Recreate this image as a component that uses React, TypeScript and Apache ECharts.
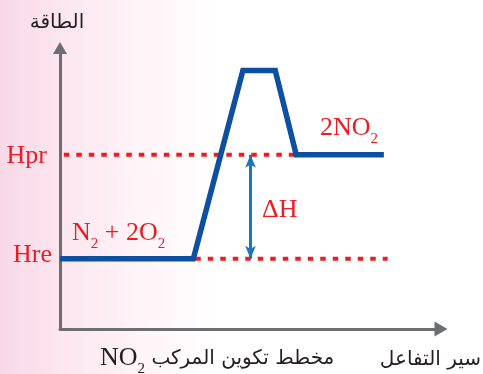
import React, { useEffect, useRef } from "react";
import * as echarts from "echarts";

// Reaction progress (arbitrary units) and energy (arbitrary units)
const progress = [0, 35, 48, 56.5, 62, 85];
const energy = [25, 25, 92, 92, 62, 62];
const hreLevel = 25;
const hprLevel = 62;
const hprDashX = [1, 62];
const hreDashX = [35.5, 86];
const deltaHX = 50;
const levelNames = ["Hre", "Hpr"];
const levelValues = [hreLevel, hprLevel];

const RED = "#ec1c24";
const BLUE = "#0d4fa1";
const ARROW_BLUE = "#1a77bd";
const GREY = "#6d6e71";
const INK = "#231f20";
const SERIF = "'Liberation Serif', 'Times New Roman', serif";
const ARABIC = "'DejaVu Sans', sans-serif";

const mainTok = { fontSize: 26, lineHeight: 26, verticalAlign: "top", fontFamily: SERIF, fill: RED };
const subTok = {
  fontSize: 15,
  lineHeight: 10,
  verticalAlign: "top",
  padding: [17, 0, 0, 0],
  fontFamily: SERIF,
  fill: RED,
};

export default function App() {
  const ref = useRef<HTMLDivElement>(null);
  useEffect(() => {
    const chart = echarts.init(ref.current!, null, { renderer: "svg" });
    const option: any = {
      animation: false,
      grid: { left: 60, right: 42, top: 48, bottom: 45 },
      xAxis: {
        type: "value",
        min: 0,
        max: 100,
        axisLine: {
          show: true,
          symbol: ["none", "triangle"],
          symbolSize: [15, 13],
          lineStyle: { color: GREY, width: 3 },
        },
        axisTick: { show: false },
        axisLabel: { show: false },
        splitLine: { show: false },
      },
      yAxis: {
        type: "value",
        min: 0,
        max: 100,
        axisLine: {
          show: true,
          symbol: ["none", "triangle"],
          symbolSize: [14, 12],
          lineStyle: { color: GREY, width: 3 },
        },
        axisTick: { show: false },
        splitLine: { show: false },
        axisLabel: {
          customValues: levelValues,
          margin: 8,
          formatter: (v: number) => {
            const i = levelValues.indexOf(v);
            return `{${levelNames[i]}|${levelNames[i]}}`;
          },
          rich: {
            Hpr: { fontSize: 26, fontFamily: SERIF, color: RED, padding: [0, 5, 0, 0] },
            Hre: { fontSize: 26, fontFamily: SERIF, color: RED, padding: [0, 0, 10, 0] },
          },
        },
      },
      series: [
        {
          type: "line",
          data: hprDashX.map((x) => [x, hprLevel]),
          symbol: "none",
          z: 2,
          lineStyle: { color: RED, width: 4, type: [5.5, 7] },
          markLine: {
            silent: true,
            symbol: ["arrow", "arrow"],
            symbolSize: [8, 13],
            label: { show: false },
            lineStyle: { color: ARROW_BLUE, width: 3, type: "solid" },
            data: [[{ coord: [deltaHX, hprLevel] }, { coord: [deltaHX, hreLevel] }]],
          },
        },
        {
          type: "line",
          data: hreDashX.map((x) => [x, hreLevel]),
          symbol: "none",
          z: 2,
          lineStyle: { color: RED, width: 4, type: [5.5, 7] },
        },
        {
          type: "line",
          data: progress.map((x, i) => [x, energy[i]]),
          symbol: "none",
          z: 3,
          lineStyle: { color: BLUE, width: 5.5, join: "miter", cap: "butt" },
        },
      ],
      graphic: [
        {
          type: "rect",
          z: -100,
          silent: true,
          shape: { x: 0, y: 0, width: 483, height: 374 },
          style: {
            fill: new echarts.graphic.LinearGradient(0, 0, 1, 0, [
              { offset: 0, color: "#f9d9e7" },
              { offset: 0.15, color: "#fce8f0" },
              { offset: 0.3, color: "#fff5f9" },
              { offset: 0.45, color: "#ffffff" },
            ]),
          },
        },
        {
          type: "text",
          x: 72,
          y: 218,
          style: {
            text: "{m|N}{s|2}{m| + 2O}{s|2}",
            verticalAlign: "top",
            rich: { m: mainTok, s: subTok },
          },
        },
        {
          type: "text",
          x: 320,
          y: 113,
          style: {
            text: "{m|2NO}{s|2}",
            verticalAlign: "top",
            rich: { m: mainTok, s: subTok },
          },
        },
        {
          type: "text",
          x: 262,
          y: 208,
          style: {
            text: "ΔH",
            fontSize: 26,
            fontFamily: SERIF,
            fill: RED,
            verticalAlign: "middle",
          },
        },
        {
          type: "text",
          x: 57,
          y: 21,
          style: {
            text: "الطاقة",
            fontSize: 20,
            fontFamily: ARABIC,
            fill: INK,
            align: "center",
            verticalAlign: "middle",
          },
        },
        {
          type: "text",
          x: 481,
          y: 358,
          style: {
            text: "سير التفاعل",
            fontSize: 20,
            fontFamily: ARABIC,
            fill: INK,
            align: "right",
            verticalAlign: "middle",
          },
        },
        {
          type: "text",
          x: 100,
          y: 343,
          style: {
            text: "{m|NO}{s|2}{a| مخطط تكوين المركب}",
            verticalAlign: "top",
            rich: {
              m: { ...mainTok, fill: INK },
              s: { ...subTok, fill: INK },
              a: { fontSize: 20, lineHeight: 26, verticalAlign: "top", padding: [4, 0, 0, 0], fontFamily: ARABIC, fill: INK },
            },
          },
        },
      ],
    };
    chart.setOption(option);
    return () => chart.dispose();
  }, []);
  return (
    <div
      ref={ref}
      style={{ position: "fixed", left: 0, top: 0, width: 483, height: 374 }}
    />
  );
}
